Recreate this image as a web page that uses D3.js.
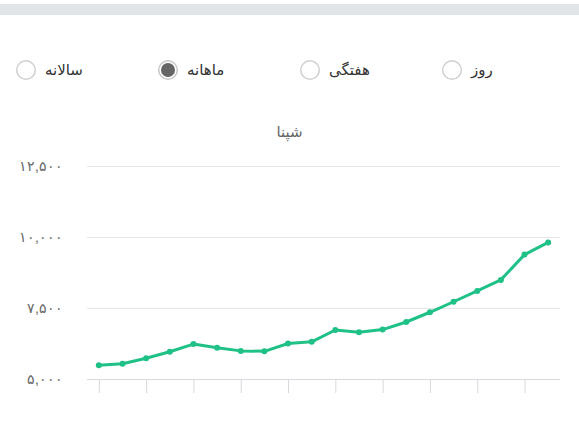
<!DOCTYPE html>
<html lang="fa">
<head>
<meta charset="utf-8">
<script src="https://cdn.jsdelivr.net/npm/d3@7"></script>
<style>
  body { margin: 0; background: #fff; }
  svg { display: block; font-family: "DejaVu Sans", sans-serif; }
</style>
</head>
<body>
<div id="chart"></div>
<script>
// ============ DATA ============
const periods = ["روز", "هفتگی", "ماهانه", "سالانه"];
const selectedPeriod = "ماهانه";
const chartTitle = "شپنا";
const months = ["1", "2", "3", "4", "5", "6", "7", "8", "9", "10",
                "11", "12", "13", "14", "15", "16", "17", "18", "19", "20"];
const prices = [5480, 5540, 5730, 5960, 6230, 6100, 5990, 5975, 6250, 6310,
                6725, 6645, 6740, 7007, 7350, 7720, 8100, 8490, 9380, 9810];
const yTicks = [5000, 7500, 10000, 12500];

// Persian digits for the tick labels
const faDigits = "۰۱۲۳۴۵۶۷۸۹";
const toFa = s => s.replace(/[0-9]/g, c => faDigits[+c]);

const W = 579, H = 427;
const svg = d3.select("#chart")
    .append("svg")
    .attr("width", W)
    .attr("height", H);

// top grey strip
svg.append("rect")
    .attr("x", 0)
    .attr("y", 4)
    .attr("width", W)
    .attr("height", 11)
    .attr("fill", "#e1e5e8");

// ============ RADIO BUTTONS ============
const radioX = d3.scalePoint()
    .domain(periods)
    .range([452, 26]);

const radios = svg.selectAll(".radio")
    .data(periods)
    .enter()
    .append("g")
    .attr("class", "radio")
    .attr("transform", d => `translate(${radioX(d)},70)`);

radios.append("circle")
    .attr("r", 9.3)
    .attr("fill", "#fff")
    .attr("stroke", d => d === selectedPeriod ? "#c8c8c8" : "#d0d0d0")
    .attr("stroke-width", 1.5);

radios.filter(d => d === selectedPeriod)
    .append("circle")
    .attr("r", 7)
    .attr("fill", "#666");

radios.append("text")
    .attr("x", 19)
    .attr("y", 5)
    .attr("text-anchor", "start")
    .attr("font-size", 15)
    .attr("fill", "#333")
    .text(d => d);

// ============ LINE CHART ============
const margin = {top: 166, right: 19, bottom: 48, left: 87};
const width = W - margin.left - margin.right;
const height = H - margin.top - margin.bottom;

const g = svg.append("g")
    .attr("transform", `translate(${margin.left},${margin.top})`);

// title
svg.append("text")
    .attr("x", W / 2)
    .attr("y", 137)
    .attr("text-anchor", "middle")
    .attr("font-size", 15)
    .attr("fill", "#666")
    .text(chartTitle);

const x = d3.scalePoint()
    .domain(months)
    .range([0, width])
    .padding(0.5);

const y = d3.scaleLinear()
    .domain([5000, 12500])
    .range([height, 0]);

// horizontal grid lines + labels
const yAxis = g.append("g")
    .call(d3.axisLeft(y)
        .tickValues(yTicks)
        .tickSize(-width)
        .tickPadding(24)
        .tickFormat(d => toFa(d3.format(",")(d))));

yAxis.select(".domain").remove();
yAxis.selectAll(".tick line")
    .attr("stroke", "#e6e6e6");
yAxis.selectAll(".tick text")
    .attr("fill", "#666")
    .attr("font-size", 14);
yAxis.selectAll(".tick")
    .filter(d => d === 5000)
    .select("line")
    .attr("stroke", "#d6d9dd");

// x ticks (labels hidden), every other month
const xAxis = g.append("g")
    .attr("transform", `translate(0,${height})`)
    .call(d3.axisBottom(x)
        .tickValues(months.filter((m, i) => i % 2 === 0))
        .tickSize(14)
        .tickFormat(""));

xAxis.select(".domain").remove();
xAxis.selectAll(".tick line")
    .attr("stroke", "#d6d9dd");

const series = months.map((m, i) => ({month: m, price: prices[i]}));

const line = d3.line()
    .x(d => x(d.month))
    .y(d => y(d.price));

g.append("path")
    .datum(series)
    .attr("fill", "none")
    .attr("stroke", "#1fc187")
    .attr("stroke-width", 3)
    .attr("stroke-linejoin", "round")
    .attr("d", line);

g.selectAll(".dot")
    .data(series)
    .enter()
    .append("circle")
    .attr("class", "dot")
    .attr("cx", d => x(d.month))
    .attr("cy", d => y(d.price))
    .attr("r", 3)
    .attr("fill", "#1fc187");
</script>
</body>
</html>
